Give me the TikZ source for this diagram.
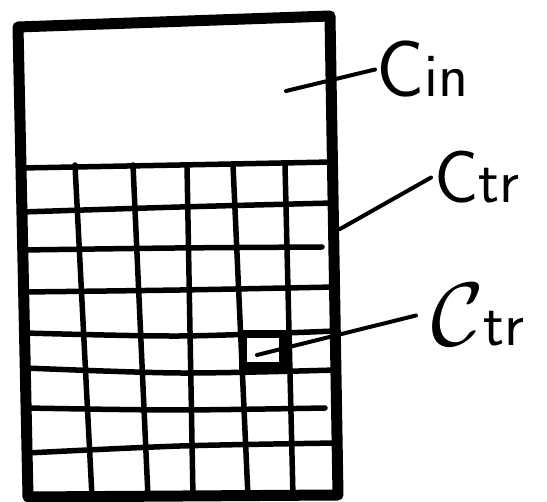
\documentclass[tikz,border=0pt]{standalone}
\usepackage{tikz}
\usetikzlibrary{positioning, calc}

\newcommand{\lblbig}{\fontsize{80}{80}\selectfont}
\newcommand{\lblsmall}{\fontsize{62}{62}\selectfont}

\tikzset{
  frame/.style={line width=11pt, line join=round, line cap=round},
  gridline/.style={line width=5.5pt, line cap=round},
  leader/.style={line width=4pt, line cap=round},
  cellbox/.style={draw, line width=7.5pt, minimum width=40pt, minimum height=32pt, inner sep=0pt},
  lbl/.style={inner sep=0pt, anchor=base west, font=\sffamily},
}

\begin{document}
\begin{tikzpicture}[x=1pt, y=-1pt]
  \useasboundingbox (0,0) rectangle (547,502);

  \draw[frame] (18,27) -- (330,16) -- (338,495) -- (28,497) -- cycle;

  \foreach \xl/\yl/\ym/\xr/\yr in {21/168/165/332/162, 22/212/207/333/203, 24/292/290/335/287,
                                   25/333/336/335/331, 25/368/373/336/370, 27/453/446/337/443}
    \draw[gridline] plot[smooth] coordinates {(\xl,\yl) (180,\ym) (\xr,\yr)};
  \draw[gridline] plot[smooth] coordinates {(23,250) (175,248) (322,247)};
  \draw[gridline] plot[smooth] coordinates {(26,408) (175,410) (325,408)};

  \foreach \xt/\xb in {75/92, 133/148, 187/193, 233/248, 285/293}
    \draw[gridline] (\xt,165) -- (\xb,497);

  \node[cellbox] (ctrcell) at (263,350) {};

  \node[lbl] (cinlabel) at (376,97) {\lblbig C\lblsmall in};
  \node[lbl] (ctrlabel) at (434,203) {\fontsize{74}{74}\selectfont C\lblsmall tr};
  \node[lbl] (cellabel) at (431,346) {\scalebox{9}{$\mathcal{C}$}\lblsmall tr};

  \coordinate (cinpt) at (286,91);
  \coordinate (ctrpt) at (340,229);
  \coordinate (cellpt) at ($(ctrcell.center)+(-6,5)$);

  \draw[leader] (cinpt) -- ([xshift=-1pt]cinlabel.west);
  \draw[leader] (ctrpt) -- ([xshift=-3pt]ctrlabel.west);
  \draw[leader] (cellpt) -- ([xshift=-15pt]cellabel.west);
\end{tikzpicture}
\end{document}
